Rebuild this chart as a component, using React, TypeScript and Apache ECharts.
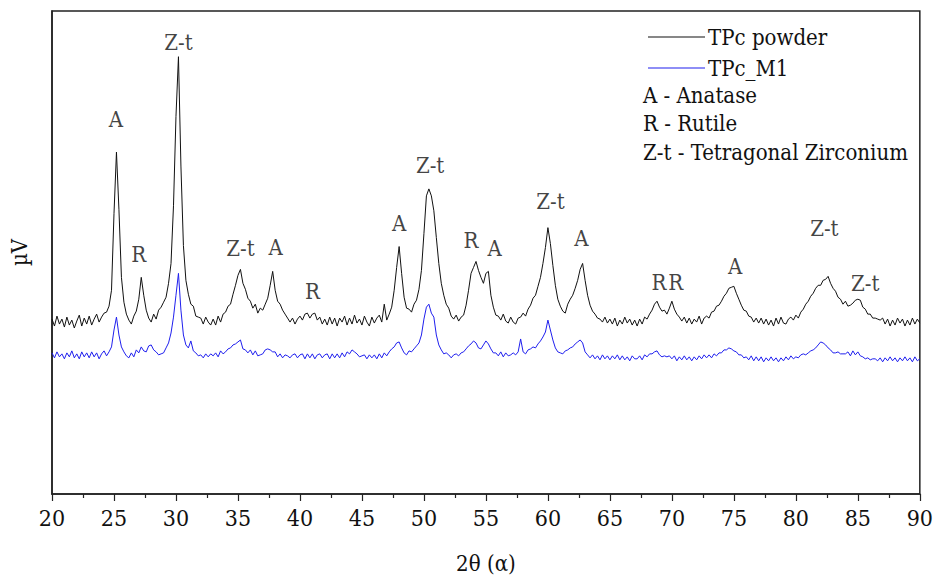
import React, { useEffect, useRef } from "react";
import * as echarts from "echarts";

// Intensity (arbitrary µV units) sampled every 0.2° from 2θ = 20° to 90°; one row per degree
const tpcPowder = [
  176, 169, 179, 171, 176, // 20
  168, 178, 170, 175, 167, // 21
  174, 180, 169, 177, 171, // 22
  179, 170, 176, 181, 173, // 23
  178, 182, 183, 189, 205, // 24
  282, 344, 286, 218, 193, // 25
  181, 175, 171, 179, 184, // 26
  196, 218, 200, 185, 177, // 27
  173, 181, 176, 185, 188, // 28
  193, 198, 212, 232, 290, // 29
  380, 440, 330, 250, 215, // 30
  201, 191, 189, 179, 178, // 31
  177, 171, 178, 173, 170, // 32
  176, 170, 179, 173, 181, // 33
  183, 189, 191, 201, 210, // 34
  220, 226, 212, 206, 197, // 35
  194, 187, 191, 182, 187, // 36
  185, 191, 197, 210, 224, // 37
  205, 194, 191, 185, 181, // 38
  177, 173, 177, 171, 176, // 39
  179, 175, 181, 182, 177, // 40
  181, 182, 175, 178, 171, // 41
  176, 170, 178, 171, 177, // 42
  169, 177, 173, 179, 170, // 43
  177, 171, 180, 172, 176, // 44
  170, 179, 173, 169, 178, // 45
  172, 177, 180, 173, 191, // 46
  175, 181, 188, 205, 228, // 47
  249, 222, 198, 187, 186, // 48
  183, 191, 195, 206, 225, // 49
  262, 300, 307, 300, 285, // 50
  258, 232, 212, 200, 191, // 51
  187, 179, 176, 180, 174, // 52
  178, 180, 190, 205, 222, // 53
  228, 234, 225, 218, 212, // 54
  222, 224, 200, 188, 180, // 55
  179, 175, 181, 174, 172, // 56
  178, 173, 171, 177, 178, // 57
  182, 179, 186, 190, 197, // 58
  200, 209, 218, 232, 248, // 59
  268, 252, 230, 210, 196, // 60
  189, 184, 182, 191, 196, // 61
  200, 207, 215, 226, 232, // 62
  215, 200, 190, 184, 181, // 63
  177, 176, 173, 178, 172, // 64
  176, 171, 177, 169, 175, // 65
  171, 178, 172, 176, 170, // 66
  175, 169, 176, 171, 178, // 67
  176, 181, 185, 191, 194, // 68
  188, 184, 185, 181, 187, // 69
  194, 186, 181, 178, 174, // 70
  178, 172, 177, 171, 176, // 71
  173, 179, 171, 177, 179, // 72
  177, 183, 184, 189, 190, // 73
  194, 199, 202, 207, 208, // 74
  209, 202, 196, 190, 185, // 75
  184, 179, 178, 173, 177, // 76
  172, 177, 171, 176, 170, // 77
  175, 169, 177, 171, 178, // 78
  172, 171, 176, 178, 175, // 79
  180, 177, 183, 186, 191, // 80
  194, 199, 202, 207, 210, // 81
  210, 215, 216, 219, 212, // 82
  207, 204, 198, 196, 191, // 83
  194, 189, 190, 192, 195, // 84
  196, 195, 188, 186, 181, // 85
  181, 177, 177, 176, 175, // 86
  177, 171, 176, 169, 175, // 87
  170, 177, 172, 176, 169, // 88
  175, 170, 177, 171, 176, // 89
  172, // 90
];

const tpcM1 = [
  142, 137, 143, 138, 141, // 20
  136, 142, 138, 144, 137, // 21
  141, 136, 143, 138, 142, // 22
  137, 143, 138, 142, 136, // 23
  141, 144, 139, 143, 148, // 24
  165, 178, 160, 148, 143, // 25
  139, 137, 142, 138, 145, // 26
  142, 148, 144, 143, 149, // 27
  150, 145, 143, 140, 141, // 28
  142, 147, 152, 162, 178, // 29
  200, 222, 185, 160, 150, // 30
  147, 154, 144, 142, 139, // 31
  140, 137, 141, 138, 141, // 32
  139, 142, 138, 144, 141, // 33
  143, 146, 147, 150, 151, // 34
  153, 155, 146, 145, 142, // 35
  145, 140, 144, 139, 140, // 36
  141, 145, 146, 145, 143, // 37
  143, 138, 141, 137, 140, // 38
  139, 137, 140, 141, 137, // 39
  140, 141, 136, 141, 137, // 40
  141, 136, 140, 141, 137, // 41
  140, 141, 136, 141, 137, // 42
  141, 137, 142, 138, 143, // 43
  141, 145, 143, 141, 138, // 44
  139, 140, 136, 140, 137, // 45
  140, 136, 141, 137, 142, // 46
  139, 143, 146, 148, 152, // 47
  153, 147, 142, 140, 144, // 48
  143, 146, 149, 152, 160, // 49
  176, 188, 191, 182, 178, // 50
  160, 150, 145, 141, 142, // 51
  140, 137, 140, 141, 139, // 52
  142, 143, 146, 149, 151, // 53
  154, 152, 147, 146, 150, // 54
  154, 151, 146, 142, 142, // 55
  139, 143, 138, 142, 139, // 56
  140, 142, 140, 143, 156, // 57
  143, 141, 145, 146, 148, // 58
  147, 151, 154, 158, 163, // 59
  175, 165, 155, 147, 143, // 60
  142, 141, 144, 145, 147, // 61
  148, 151, 153, 155, 152, // 62
  143, 140, 137, 140, 136, // 63
  139, 135, 140, 136, 139, // 64
  135, 139, 136, 140, 135, // 65
  139, 135, 138, 134, 139, // 66
  136, 136, 139, 135, 140, // 67
  138, 141, 141, 143, 144, // 68
  140, 138, 139, 138, 139, // 69
  136, 139, 134, 138, 135, // 70
  139, 135, 138, 134, 138, // 71
  135, 139, 136, 140, 137, // 72
  140, 137, 141, 139, 142, // 73
  142, 145, 145, 147, 146, // 74
  144, 143, 140, 140, 137, // 75
  138, 135, 139, 134, 138, // 76
  134, 138, 133, 137, 134, // 77
  138, 134, 137, 133, 137, // 78
  134, 138, 135, 139, 136, // 79
  138, 137, 140, 141, 140, // 80
  142, 144, 145, 147, 150, // 81
  153, 152, 150, 147, 145, // 82
  142, 142, 143, 141, 141, // 83
  141, 143, 139, 144, 140, // 84
  143, 139, 138, 136, 137, // 85
  135, 136, 136, 134, 137, // 86
  133, 137, 134, 138, 134, // 87
  137, 133, 137, 134, 138, // 88
  134, 137, 133, 138, 134, // 89
  136, // 90
];

const twoTheta = tpcPowder.map((_, i) => 20 + i * 0.2);

// Peak annotations
const peakLabels = ["A", "R", "Z-t", "Z-t", "A", "R", "A", "Z-t", "R", "A", "Z-t", "A", "R", "R", "A", "Z-t", "Z-t"];
const peakX = [25.15, 27.0, 30.2, 35.2, 38.05, 41.0, 48.0, 50.5, 53.8, 55.7, 60.2, 62.7, 68.95, 70.3, 75.1, 82.3, 85.6];
const peakY = [377, 241, 454, 247, 248, 204, 272, 331, 255, 247, 294, 257, 213, 213, 229, 267, 212];

const phaseNotes = ["A - Anatase", "R - Rutile", "Z-t - Tetragonal Zirconium"];

const FONT = "DejaVu Serif Condensed";

export default function App() {
  const ref = useRef<HTMLDivElement>(null);
  useEffect(() => {
    if (!ref.current) return;
    const chart = echarts.init(ref.current, null, { renderer: "svg" });
    chart.setOption({
      animation: false,
      backgroundColor: "#fff",
      grid: {
        left: 44,
        right: 13,
        top: 11,
        bottom: 82,
        show: true,
        borderColor: "#222",
        borderWidth: 1.5,
      },
      legend: {
        orient: "vertical",
        left: 643,
        top: 18,
        itemWidth: 57,
        itemHeight: 14,
        itemGap: 3,
        icon: "path://M0,7 L57,7 L57,8 L0,8 Z",
        textStyle: { fontFamily: FONT, fontSize: 22, color: "#111", lineHeight: 28, padding: [0, 0, 0, -2] },
        data: ["TPc powder", "TPc_M1"],
      },
      xAxis: {
        type: "value",
        min: 20,
        max: 90,
        interval: 5,
        name: "2θ (α)",
        nameLocation: "middle",
        nameGap: 58,
        nameTextStyle: { fontFamily: FONT, fontSize: 22, color: "#111" },
        axisLine: { lineStyle: { color: "#222", width: 1.5 } },
        axisTick: { length: 7, lineStyle: { color: "#222", width: 1.2 } },
        minorTick: { show: true, splitNumber: 2, length: 4, lineStyle: { color: "#222", width: 1.2 } },
        axisLabel: { fontFamily: FONT, fontSize: 23, color: "#111", margin: 12 },
        splitLine: { show: false },
      },
      yAxis: {
        type: "value",
        min: 0,
        max: 486,
        name: "µV",
        nameLocation: "middle",
        nameGap: 22,
        nameRotate: 90,
        nameTextStyle: { fontFamily: FONT, fontSize: 22, color: "#111" },
        axisLine: { show: true, lineStyle: { color: "#222", width: 1.5 } },
        axisTick: { show: false },
        axisLabel: { show: false },
        splitLine: { show: false },
      },
      series: [
        {
          name: "TPc powder",
          type: "line",
          showSymbol: false,
          color: "#111",
          lineStyle: { width: 1, color: "#111" },
          data: twoTheta.map((x, i) => [x, tpcPowder[i]]),
        },
        {
          name: "TPc_M1",
          type: "line",
          showSymbol: false,
          color: "#1f1fee",
          lineStyle: { width: 1, color: "#1f1fee" },
          data: twoTheta.map((x, i) => [x, tpcM1[i]]),
        },
        {
          name: "peaks",
          type: "scatter",
          symbolSize: 0,
          silent: true,
          label: {
            show: true,
            position: "inside",
            formatter: (p: any) => p.name,
            fontFamily: FONT,
            fontSize: 22,
            color: "#111",
          },
          data: peakLabels.map((t, i) => ({ name: t, value: [peakX[i], peakY[i]] })),
        },
      ],
      graphic: phaseNotes.map((t, i) => ({
        type: "text",
        left: 643,
        top: 84 + i * 28.5,
        style: { text: t, fontFamily: FONT, fontSize: 22, fill: "#111" },
      })),
    });
    return () => chart.dispose();
  }, []);
  return (
    <div
      ref={ref}
      style={{ position: "fixed", left: 0, top: 0, width: 936, height: 579 }}
    />
  );
}
